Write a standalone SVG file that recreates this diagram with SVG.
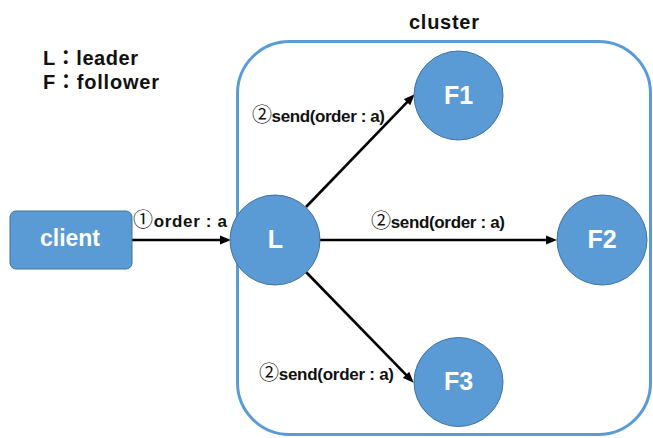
<svg xmlns="http://www.w3.org/2000/svg" width="653" height="438" viewBox="0 0 653 438">
<style>
text{font-family:"Liberation Sans","Noto Sans CJK JP",sans-serif;font-weight:bold}
.lbl{font-size:17px;fill:#111}
.cd{font-size:20px;font-weight:normal}
.leg{font-size:20px;fill:#111}
.nd{fill:#5B9BD5;stroke:#41719C;stroke-width:1}
.nt{font-size:25px;fill:#fff;text-anchor:middle}
.ar{stroke:#000;stroke-width:2.6;fill:none;marker-end:url(#ah)}
</style>
<defs>
<marker id="ah" markerUnits="userSpaceOnUse" markerWidth="11" markerHeight="10" refX="5" refY="5" orient="auto">
<path d="M0,0.5 L11,5 L0,9.5 z" fill="#000"/>
</marker>
</defs>
<rect x="0" y="0" width="653" height="438" fill="#fff"/>
<g id="legend">
<text class="leg" x="43" y="65" textLength="95">L：leader</text>
<text class="leg" x="43" y="89" textLength="116">F：follower</text>
</g>
<g id="cluster">
<rect x="237.5" y="41.5" width="413" height="393" rx="52" fill="none" stroke="#5B9BD5" stroke-width="3"/>
<text x="409" y="29" font-size="20" fill="#111" textLength="70">cluster</text>
</g>
<g id="connectors">
<line class="ar" x1="132" y1="240" x2="225" y2="240"/>
<line class="ar" x1="320" y1="240" x2="551" y2="240"/>
<line class="ar" x1="306" y1="207" x2="410.5" y2="98.6"/>
<line class="ar" x1="306" y1="272" x2="409.5" y2="378.4"/>
<text class="lbl" x="133" y="227" textLength="94"><tspan class="cd">①</tspan>order : a</text>
<text class="lbl" x="252" y="122" textLength="133"><tspan class="cd">②</tspan>send(order : a)</text>
<text class="lbl" x="371" y="228" textLength="134"><tspan class="cd">②</tspan>send(order : a)</text>
<text class="lbl" x="259" y="380" textLength="135"><tspan class="cd">②</tspan>send(order : a)</text>
</g>
<g id="client">
<rect class="nd" x="10" y="211" width="122" height="58" rx="6"/>
<text x="70" y="246" font-size="23" fill="#fff" text-anchor="middle">client</text>
</g>
<g id="L">
<circle class="nd" cx="275" cy="240" r="45"/>
<text class="nt" x="275.5" y="248">L</text>
</g>
<g id="F1">
<circle class="nd" cx="458.5" cy="95.5" r="44.5"/>
<text class="nt" x="458.5" y="104">F1</text>
</g>
<g id="F2">
<circle class="nd" cx="602" cy="240" r="45"/>
<text class="nt" x="602" y="248">F2</text>
</g>
<g id="F3">
<circle class="nd" cx="458.5" cy="382" r="44.5"/>
<text class="nt" x="458.5" y="390">F3</text>
</g>
</svg>
